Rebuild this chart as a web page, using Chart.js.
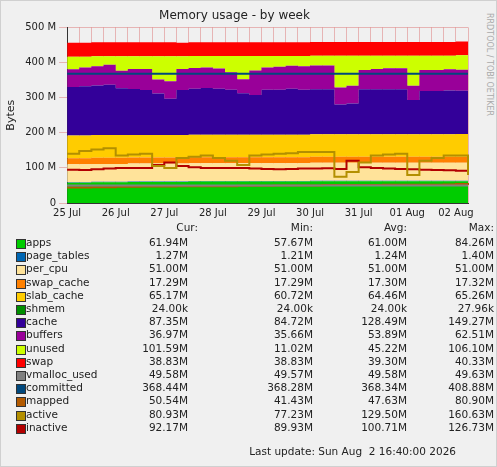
<!DOCTYPE html>
<html>
<head>
<meta charset="utf-8">
<script src="https://cdn.jsdelivr.net/npm/chart.js@4"></script>
<style>
  body { margin: 0; background: #fff; font-family: "DejaVu Sans", sans-serif; }
  #frame { position: relative; width: 495px; height: 465px; background: #f0f0f0; border: 1px solid #d0d0d0; }
  #chartBox { position: absolute; left: 0; top: 0; width: 480px; height: 222px; }
  #brand { position: absolute; left: 484px; top: 12px; writing-mode: vertical-rl; font-size: 8px; color: #aaa; }
  #legend { position: absolute; left: 0; top: 218px; width: 495px; font-size: 10.5px; color: #222; }
  .row { position: absolute; left: 0; height: 16px; width: 495px; }
  .sw { position: absolute; left: 15px; top: 3px; width: 8px; height: 8px; border: 1px solid #333; }
  .nm { position: absolute; left: 25px; top: 0; }
  .c { position: absolute; top: 0; text-align: right; width: 80px; }
  #upd { position: absolute; left: 0; top: 444px; width: 455px; text-align: right; font-size: 10.5px; color: #222; }
</style>
</head>
<body>
<div id="frame">
  <div id="chartBox"><canvas id="myChart"></canvas></div>
  <div id="brand">RRDTOOL / TOBI OETIKER</div>
  <div id="legend"></div>
  <div id="upd">Last update: Sun Aug&nbsp; 2 16:40:00 2026</div>
</div>
<script>
// 6-hour samples from 25 Jul 00:00
var labels = [];
var dayNames = ["25 Jul", "26 Jul", "27 Jul", "28 Jul", "29 Jul", "30 Jul", "31 Jul", "01 Aug", "02 Aug"];
for (var i = 0; i < 34; i++) labels.push(i % 4 === 0 ? dayNames[i / 4] : "");

var apps = [58,58,59,59,59,60,60,60,60,60,61,61,61,61,61,61,61,61,61,61,62,62,62,62,62,62,62,62,62,62,62,62,62,62];
var pageTables = [1.2,1.2,1.2,1.2,1.2,1.2,1.2,1.2,1.3,1.3,1.3,1.3,1.3,1.3,1.3,1.3,1.3,1.3,1.3,1.3,1.3,1.3,1.3,1.3,1.3,1.3,1.3,1.3,1.3,1.3,1.3,1.3,1.3,1.3];
var perCpu = [51,51,51,51,51,51,51,51,51,51,51,51,51,51,51,51,51,51,51,51,51,51,51,51,51,51,51,51,51,51,51,51,51,51];
var swapCache = [17.3,17.3,17.3,17.3,17.3,17.3,17.3,17.3,17.3,17.3,17.3,17.3,17.3,17.3,17.3,17.3,17.3,17.3,17.3,17.3,17.3,17.3,17.3,17.3,17.3,17.3,17.3,17.3,17.3,17.3,17.3,17.3,17.3,17.3];
var slabCache = [65,65,65,65,65,64,64,64,64,64,64,64,64,64,64,64,64,64,64,64,64,64,64,64,64,64,64,64,64,64,64,64,65,65];
var shmem = [0.02,0.02,0.02,0.02,0.02,0.02,0.02,0.02,0.02,0.02,0.02,0.02,0.02,0.02,0.02,0.02,0.02,0.02,0.02,0.02,0.02,0.02,0.02,0.02,0.02,0.02,0.02,0.02,0.02,0.02,0.02,0.02,0.02,0.02];
var cache = [138,140,141,143,133,131,128,118,103,128,131,133,131,128,118,113,128,128,131,128,128,128,85,88,128,128,128,128,98,123,123,125,123,88];
var buffers = [50,53,55,57,50,57,60,40,50,60,59,58,57,50,40,70,63,65,65,67,68,68,48,50,55,58,60,60,40,60,60,60,60,37];
var unused = [36,31,28,24,41,36,36,66,71,36,34,33,36,46,66,41,33,31,28,29,28,28,91,86,41,38,36,36,86,41,41,39,41,99];
var swap = [40,40,40,40,40,40,40,40,40,39,39,39,39,39,39,39,39,39,39,39,39,39,39,39,39,39,39,39,39,39,39,39,39,39];
var vmallocUsed = [49.6,49.6,49.6,49.6,49.6,49.6,49.6,49.6,49.6,49.6,49.6,49.6,49.6,49.6,49.6,49.6,49.6,49.6,49.6,49.6,49.6,49.6,49.6,49.6,49.6,49.6,49.6,49.6,49.6,49.6,49.6,49.6,49.6,49.6];
var committed = [368,368,368,368,368,368,368,368,368,368,368,368,368,368,368,368,368,368,368,368,368,368,368,368,368,368,368,368,368,368,368,368,368,368];
var mapped = [44,44,45,45,46,46,47,47,47,48,48,48,48,48,49,49,49,50,50,50,50,51,51,51,51,51,52,52,52,52,52,53,54,51];
var active = [140,148,152,156,135,138,140,105,100,128,132,135,128,120,108,135,138,140,142,145,145,145,75,88,115,135,138,140,80,120,128,135,135,80];
var inactive = [95,94,96,98,100,100,100,108,115,105,102,100,100,100,100,98,97,96,97,98,98,99,97,120,102,100,98,97,96,95,94,93,92,90];

var areas = [
  ["apps", apps, "#00CC00"], ["page_tables", pageTables, "#0066B3"], ["per_cpu", perCpu, "#FFE39A"],
  ["swap_cache", swapCache, "#FF8000"], ["slab_cache", slabCache, "#FFCC00"], ["shmem", shmem, "#008F00"],
  ["cache", cache, "#330099"], ["buffers", buffers, "#990099"], ["unused", unused, "#CCFF00"], ["swap", swap, "#FF0000"]
];
var lines = [
  ["vmalloc_used", vmallocUsed, "#808080"], ["committed", committed, "#00487D"], ["mapped", mapped, "#B35A00"],
  ["active", active, "#B38F00"], ["inactive", inactive, "#B30000"]
];

var datasets = [];
areas.forEach(function (a, k) {
  datasets.push({ label: a[0], data: a[1], backgroundColor: a[2], borderColor: a[2], borderWidth: 0,
    fill: k === 0 ? "origin" : "-1", stack: "mem", stepped: true, pointRadius: 0, order: 2 });
});
lines.forEach(function (l) {
  datasets.push({ label: l[0], data: l[1], borderColor: l[2], borderWidth: 2, fill: false,
    stack: l[0], stepped: true, pointRadius: 0, order: 1 });
});

Chart.defaults.font.family = "DejaVu Sans";
Chart.defaults.color = "#222";

var myChart = new Chart(document.getElementById("myChart"), {
  type: "line",
  data: { labels: labels, datasets: datasets },
  options: {
    responsive: true, maintainAspectRatio: false, animation: false,
    layout: { padding: { left: 0, right: 13, top: 4 } },
    plugins: {
      legend: { display: false },
      title: { display: true, text: "Memory usage - by week", font: { size: 12, weight: "normal" }, padding: { top: 4, bottom: 4 } }
    },
    scales: {
      x: { stacked: true, offset: false,
        grid: { color: "rgba(220,120,120,0.5)", borderDash: [1, 2], drawTicks: false },
        border: { color: "#333" },
        ticks: { autoSkip: false, maxRotation: 0, font: { size: 10 }, padding: 4,
          callback: function (v, i) { return labels[i]; } } },
      y: { stacked: true, min: 0, max: 500,
        title: { display: true, text: "Bytes", font: { size: 11 } },
        grid: { color: "rgba(220,120,120,0.5)", borderDash: [1, 2] },
        border: { color: "#333" },
        ticks: { stepSize: 100, font: { size: 10 }, callback: function (v) { return v === 0 ? "0" : v + " M"; } } }
    }
  }
});

var legendRows = [
  ["apps", "#00CC00", "61.94M", "57.67M", "61.00M", "84.26M"],
  ["page_tables", "#0066B3", "1.27M", "1.21M", "1.24M", "1.40M"],
  ["per_cpu", "#FFE39A", "51.00M", "51.00M", "51.00M", "51.00M"],
  ["swap_cache", "#FF8000", "17.29M", "17.29M", "17.30M", "17.32M"],
  ["slab_cache", "#FFCC00", "65.17M", "60.72M", "64.46M", "65.26M"],
  ["shmem", "#008F00", "24.00k", "24.00k", "24.00k", "27.96k"],
  ["cache", "#330099", "87.35M", "84.72M", "128.49M", "149.27M"],
  ["buffers", "#990099", "36.97M", "35.66M", "53.89M", "62.51M"],
  ["unused", "#CCFF00", "101.59M", "11.02M", "45.22M", "106.10M"],
  ["swap", "#FF0000", "38.83M", "38.83M", "39.30M", "40.33M"],
  ["vmalloc_used", "#808080", "49.58M", "49.57M", "49.58M", "49.63M"],
  ["committed", "#00487D", "368.44M", "368.28M", "368.34M", "408.88M"],
  ["mapped", "#B35A00", "50.54M", "41.43M", "47.63M", "80.90M"],
  ["active", "#B38F00", "80.93M", "77.23M", "129.50M", "160.63M"],
  ["inactive", "#B30000", "92.17M", "89.93M", "100.71M", "126.73M"]
];
var colRight = [197, 312, 406, 493];
var html = '<div class="row" style="top:2px">';
["Cur:", "Min:", "Avg:", "Max:"].forEach(function (h, k) {
  html += '<div class="c" style="left:' + (colRight[k] - 80) + 'px">' + h + '</div>';
});
html += '</div>';
legendRows.forEach(function (r, n) {
  html += '<div class="row" style="top:' + (17 + n * 13.2) + 'px"><div class="sw" style="background:' + r[1] + '"></div><div class="nm">' + r[0] + '</div>';
  for (var k = 0; k < 4; k++) html += '<div class="c" style="left:' + (colRight[k] - 80 - (k === 0 ? 10 : 0)) + 'px">' + r[k + 2] + '</div>';
  html += '</div>';
});
document.getElementById("legend").innerHTML = html;
</script>
</body>
</html>
